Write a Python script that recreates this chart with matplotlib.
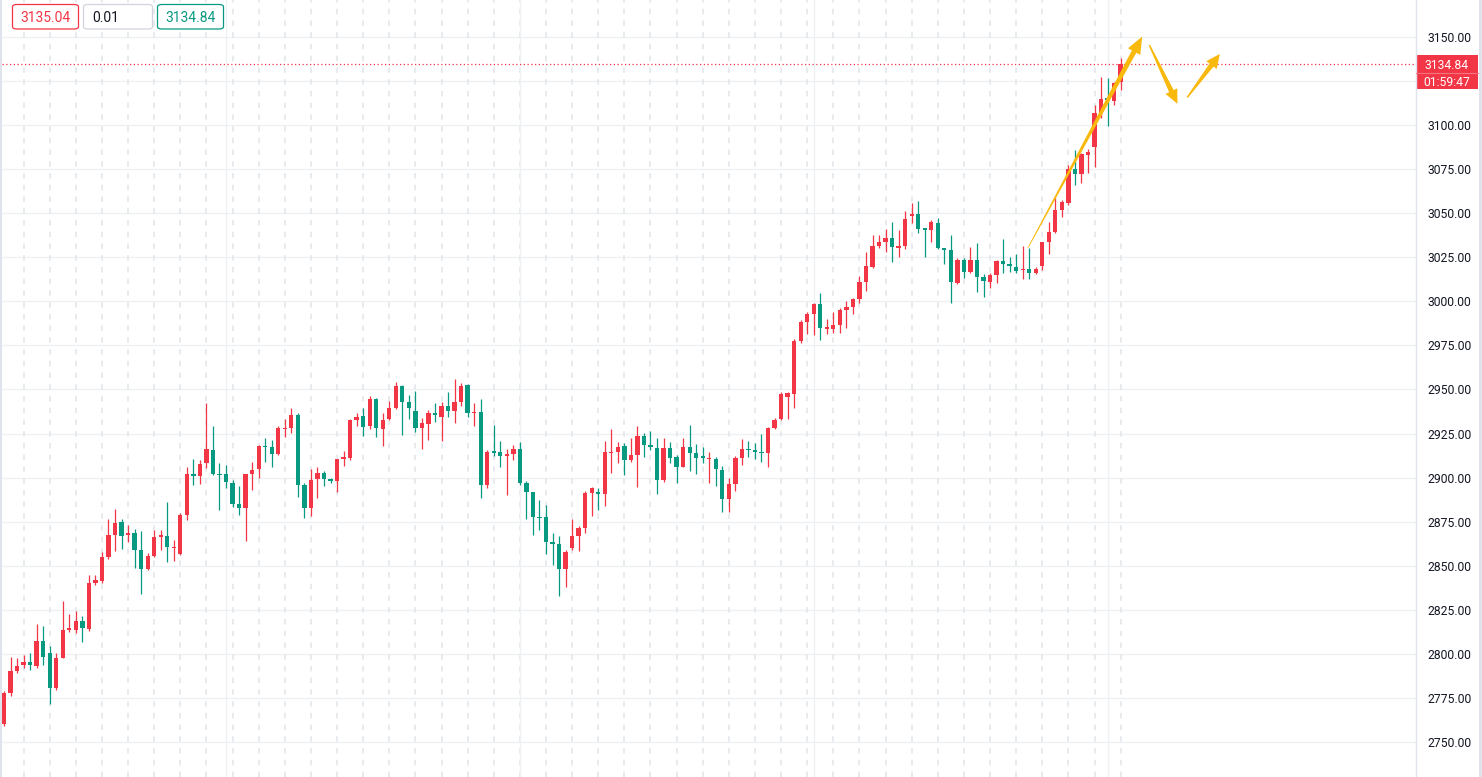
import numpy as np
import matplotlib.pyplot as plt
from matplotlib.patches import Polygon, Rectangle, FancyBboxPatch
from matplotlib.lines import Line2D
from matplotlib.transforms import blended_transform_factory

plt.rcParams['font.family'] = ['Roboto', 'DejaVu Sans']

# ---- candle data ----
opens = [2760.3, 2778.0, 2790.5, 2793.7, 2795.2, 2793.2, 2807.3, 2800.3, 2780.5, 2797.9,
         2813.8, 2813.6, 2818.9, 2814.0, 2840.4, 2841.4, 2854.8, 2867.5, 2875.0, 2867.3,
         2868.4, 2859.0, 2848.2, 2855.5, 2866.5, 2866.9, 2859.9, 2856.5, 2878.8, 2901.9,
         2901.1, 2908.1, 2915.7, 2902.1, 2902.1, 2896.8, 2885.1, 2882.6, 2902.1, 2904.9,
         2918.0, 2917.6, 2913.4, 2927.6, 2928.4, 2935.5, 2895.8, 2882.8, 2899.3, 2902.5,
         2898.7, 2898.3, 2910.8, 2911.0, 2932.7, 2935.0, 2929.3, 2944.4, 2927.6, 2933.1,
         2939.7, 2952.2, 2943.1, 2938.0, 2928.4, 2930.5, 2936.4, 2934.6, 2940.7, 2938.0,
         2942.9, 2952.6, 2936.5, 2937.1, 2895.9, 2915.0, 2914.4, 2912.5, 2913.3, 2916.3,
         2897.2, 2891.7, 2877.6, 2877.4, 2863.2, 2862.4, 2848.2, 2860.3, 2867.1, 2871.6,
         2891.4, 2891.8, 2890.9, 2914.1, 2914.7, 2917.9, 2910.0, 2912.8, 2923.8, 2918.5,
         2916.6, 2898.6, 2916.6, 2911.5, 2906.2, 2917.2, 2914.1, 2912.2, 2910.3, 2910.3,
         2904.3, 2887.9, 2896.4, 2911.3, 2916.2, 2915.6, 2914.7, 2914.1, 2928.1, 2933.3,
         2945.6, 2947.5, 2977.5, 2988.5, 2992.6, 2998.5, 2984.5, 2984.3, 2986.6, 2995.1,
         2997.0, 3001.1, 3011.2, 3019.7, 3031.4, 3033.9, 3036.2, 3030.5, 3031.6, 3048.6,
         3049.6, 3041.5, 3040.5, 3044.7, 3030.1, 3029.2, 3010.6, 3023.5, 3016.9, 3023.5,
         3013.7, 3011.2, 3015.0, 3023.1, 3021.2, 3019.5, 3017.6, 3018.4, 3015.9, 3020.3,
         3033.5, 3039.6, 3051.9, 3055.7, 3075.0, 3072.3, 3083.1, 3087.8, 3106.7, 3115.2,
         3113.7, 3124.7]
highs = [2779.2, 2798.5, 2797.5, 2799.4, 2800.3, 2817.0, 2815.8, 2804.5, 2800.3, 2830.2,
         2822.6, 2824.3, 2821.5, 2844.8, 2844.8, 2858.0, 2876.5, 2882.2, 2876.5, 2873.1,
         2870.9, 2869.7, 2857.0, 2870.3, 2870.3, 2886.4, 2864.6, 2879.7, 2905.9, 2910.6,
         2910.0, 2942.5, 2929.3, 2908.1, 2907.2, 2898.7, 2895.3, 2902.1, 2908.7, 2918.5,
         2922.3, 2921.4, 2929.3, 2933.1, 2939.3, 2936.5, 2897.2, 2904.7, 2905.9, 2904.0,
         2900.0, 2910.6, 2915.3, 2933.3, 2936.9, 2939.7, 2946.3, 2945.0, 2936.9, 2943.7,
         2954.5, 2952.6, 2946.9, 2949.2, 2933.7, 2938.4, 2942.2, 2943.1, 2948.4, 2955.8,
         2953.5, 2953.2, 2942.2, 2944.5, 2915.7, 2929.9, 2920.8, 2916.3, 2918.6, 2920.1,
         2898.2, 2891.7, 2887.4, 2884.5, 2868.5, 2866.9, 2858.9, 2876.5, 2872.7, 2892.4,
         2894.9, 2893.9, 2920.9, 2927.6, 2920.4, 2919.4, 2922.3, 2929.4, 2925.1, 2926.4,
         2922.6, 2922.3, 2920.4, 2912.8, 2922.3, 2929.8, 2919.0, 2917.5, 2914.7, 2911.5,
         2906.6, 2899.6, 2912.2, 2921.7, 2920.7, 2919.4, 2924.7, 2928.9, 2933.6, 2948.4,
         2948.4, 2978.4, 2989.4, 2994.1, 2999.2, 3004.5, 2990.0, 2993.8, 2996.0, 3000.4,
         3001.7, 3014.6, 3028.2, 3037.7, 3037.7, 3041.0, 3044.9, 3040.5, 3051.5, 3055.6,
         3057.0, 3041.5, 3046.2, 3047.1, 3030.1, 3037.7, 3024.4, 3024.4, 3030.7, 3033.3,
         3015.6, 3015.9, 3023.5, 3035.4, 3025.4, 3026.9, 3031.4, 3030.5, 3019.7, 3033.9,
         3044.9, 3058.5, 3057.6, 3077.4, 3086.0, 3084.1, 3086.3, 3111.5, 3127.2, 3126.6,
         3124.7, 3137.9]
lows = [2758.8, 2776.0, 2789.0, 2791.8, 2790.9, 2792.2, 2793.7, 2771.6, 2779.6, 2797.5,
        2812.6, 2812.1, 2807.0, 2813.0, 2839.3, 2840.0, 2853.7, 2858.6, 2859.5, 2863.7,
        2848.5, 2834.0, 2847.6, 2855.2, 2859.0, 2852.3, 2852.9, 2856.1, 2876.0, 2895.8,
        2896.4, 2905.3, 2901.5, 2881.7, 2894.0, 2883.6, 2878.8, 2864.3, 2893.0, 2899.6,
        2909.1, 2905.9, 2912.9, 2923.3, 2925.2, 2888.9, 2876.9, 2878.3, 2888.3, 2895.3,
        2896.8, 2892.1, 2906.6, 2910.0, 2929.3, 2923.6, 2927.4, 2922.9, 2918.0, 2932.7,
        2938.8, 2923.9, 2933.1, 2926.1, 2916.3, 2921.4, 2931.4, 2920.8, 2934.6, 2930.9,
        2940.7, 2934.6, 2929.5, 2888.3, 2894.0, 2912.3, 2905.9, 2890.2, 2910.1, 2895.9,
        2876.4, 2867.5, 2870.3, 2856.8, 2850.5, 2832.6, 2838.1, 2858.9, 2858.6, 2868.8,
        2878.2, 2881.6, 2883.9, 2902.8, 2908.1, 2901.5, 2909.0, 2894.5, 2911.5, 2915.6,
        2890.7, 2897.7, 2908.1, 2896.7, 2906.2, 2903.9, 2902.0, 2908.1, 2896.7, 2895.2,
        2880.3, 2880.3, 2892.6, 2907.1, 2911.9, 2910.4, 2909.0, 2906.2, 2927.6, 2932.7,
        2933.1, 2939.3, 2976.2, 2981.5, 2980.9, 2978.1, 2981.5, 2981.9, 2982.2, 2984.7,
        2992.8, 2999.2, 3005.9, 3019.1, 3030.1, 3028.0, 3022.6, 3025.4, 3029.5, 3044.7,
        3038.6, 3025.4, 3033.9, 3029.5, 3021.2, 2999.3, 3009.9, 3013.1, 3015.9, 3005.5,
        3002.3, 3007.4, 3010.6, 3015.9, 3016.9, 3016.3, 3012.5, 3012.5, 3015.6, 3017.8,
        3026.9, 3039.0, 3047.8, 3054.4, 3066.1, 3067.4, 3073.1, 3076.5, 3103.9, 3099.7,
        3111.5, 3120.0]
closes = [2778.0, 2790.3, 2793.2, 2795.2, 2793.9, 2807.3, 2798.5, 2780.9, 2797.5, 2813.6,
          2814.5, 2818.9, 2814.9, 2840.4, 2841.9, 2855.2, 2867.5, 2874.4, 2866.9, 2868.4,
          2859.0, 2848.2, 2855.5, 2866.5, 2867.3, 2860.8, 2860.8, 2878.8, 2902.1, 2901.1,
          2907.8, 2916.3, 2902.1, 2901.3, 2897.7, 2885.1, 2882.6, 2901.9, 2904.4, 2918.0,
          2917.2, 2913.4, 2928.0, 2928.4, 2935.5, 2895.8, 2882.6, 2898.7, 2902.5, 2899.1,
          2898.3, 2910.6, 2911.5, 2932.7, 2934.6, 2928.9, 2944.6, 2928.0, 2932.7, 2939.7,
          2952.2, 2943.1, 2939.4, 2928.4, 2930.9, 2936.5, 2935.8, 2940.7, 2938.0, 2942.9,
          2952.2, 2936.9, 2937.5, 2895.9, 2914.8, 2914.2, 2912.5, 2913.1, 2916.3, 2896.8,
          2892.1, 2877.4, 2877.0, 2863.2, 2862.4, 2848.2, 2858.0, 2866.9, 2871.6, 2891.4,
          2893.9, 2890.9, 2914.7, 2914.7, 2917.5, 2910.0, 2912.8, 2923.6, 2918.5, 2917.5,
          2898.6, 2916.6, 2910.9, 2906.2, 2917.2, 2913.8, 2910.9, 2910.9, 2910.9, 2904.7,
          2887.9, 2896.4, 2911.3, 2916.2, 2915.5, 2914.7, 2914.1, 2928.1, 2932.7, 2947.5,
          2947.8, 2977.7, 2988.5, 2992.6, 2998.5, 2984.7, 2985.6, 2986.6, 2995.1, 2997.0,
          3001.1, 3011.2, 3020.1, 3031.4, 3033.5, 3036.2, 3030.7, 3031.1, 3046.8, 3049.6,
          3041.1, 3040.7, 3044.9, 3030.1, 3029.4, 3011.2, 3023.5, 3016.9, 3023.5, 3014.1,
          3011.8, 3015.0, 3023.1, 3021.2, 3020.3, 3017.3, 3018.4, 3015.9, 3018.4, 3033.5,
          3039.6, 3051.9, 3056.6, 3075.0, 3072.3, 3083.7, 3084.6, 3106.7, 3114.9, 3114.5,
          3124.1, 3134.84]

last_price = 3134.84
countdown = "01:59:47"
header_values = ["3135.04", "0.01", "3134.84"]
price_ticks = [2750, 2775, 2800, 2825, 2850, 2875, 2900, 2925, 2950, 2975,
               3000, 3025, 3050, 3075, 3100, 3125, 3150]
hidden_tick = 3125          # covered by the countdown label
session_breaks = list(range(3, 172, 4))
month_lines = [34, 79, 124, 169]

# drawn forecast arrows: (bar index, price) start -> tip
arrows = [((156.8, 3030.3), (174.3, 3150.2)),
          ((175.4, 3145.4), (179.7, 3112.1)),
          ((181.2, 3115.7), (186.2, 3140.4))]

UP = '#f23645'
DOWN = '#089981'
W, H = 1482, 777

fig = plt.figure(figsize=(W / 100, H / 100), dpi=100)
fig.patch.set_facecolor('white')
ax = fig.add_axes([2 / W, 0, 1414 / W, 1])
ax.set_xlim(-0.306, 216.23)
ax.set_ylim(2730.14, 3170.99)
ax.axis('off')

# grid
for p in price_ticks:
    ax.axhline(p, color='#eef0f4', lw=1, zorder=0)
for i in session_breaks:
    ax.axvline(i, color='#e6e8ec', lw=1.3, linestyle=(0, (3, 3.5)), zorder=0)
for i in month_lines:
    ax.axvline(i, color='#eef0f4', lw=1, zorder=0)

# candles
o = np.array(opens)
c = np.array(closes)
hi = np.array(highs)
lo = np.array(lows)
x = np.arange(len(o))
cols = np.where(c >= o, UP, DOWN)
ax.vlines(x, lo, hi, colors=cols, lw=0.9, zorder=2)
body_h = np.maximum(np.abs(c - o), 0.7)
ax.bar(x, body_h, bottom=np.minimum(o, c), width=0.66, color=cols, lw=0, zorder=3)

# last price line
ax.axhline(last_price, color=UP, lw=0.9, linestyle=(0, (1, 2)), zorder=1)


def tapered_arrow(start, end, w0, w1, head_len, head_w, color):
    tr = ax.transData
    s = tr.transform(start)
    e = tr.transform(end)
    d = (e - s) / np.hypot(*(e - s))
    n = np.array([-d[1], d[0]])
    b = e - d * head_len
    pts = [s + n * w0 / 2, b + n * w1 / 2, b + n * head_w / 2, e,
           b - n * head_w / 2, b - n * w1 / 2, s - n * w0 / 2]
    pts = tr.inverted().transform(pts)
    ax.add_patch(Polygon(pts, closed=True, facecolor=color, edgecolor='none', zorder=6))


arrow_style = [(0.8, 5.0, 17, 14), (1.5, 5.0, 14, 13), (1.5, 5.0, 14, 13)]
for (s, e), (w0, w1, hl, hw) in zip(arrows, arrow_style):
    tapered_arrow(s, e, w0, w1, hl, hw, '#f9b90c')

# price scale
fig.add_artist(Line2D([1416 / W, 1416 / W], [0, 1], color='#e0e3eb', lw=1))
fig.add_artist(Rectangle((0, 0), 2 / W, 1, color='#e0e3eb', lw=0))
fig.add_artist(Rectangle((1479 / W, 0), 3 / W, 1, color='#e0e3eb', lw=0))
ytr = blended_transform_factory(fig.transFigure, ax.transData)
for p in price_ticks:
    if p == hidden_tick:
        continue
    fig.text(1427 / W, p, f"{p:.2f}", transform=ytr, ha='left', va='center_baseline',
             fontsize=8.7, color='#131722')


def px(xp, yp):
    return xp / W, 1 - yp / H


# last price + countdown tag
x0, y0 = px(1416, 89)
fig.add_artist(Rectangle((x0, y0), 62 / W, 34 / H, color=UP, lw=0))
fig.add_artist(Line2D([1416 / W, 1478 / W], [1 - 72.5 / H] * 2, color='#f6737f', lw=0.8))
fig.text(1447 / W, last_price, f"{last_price:.2f}", transform=ytr, ha='center',
         va='center_baseline', fontsize=8.7, color='white')
fig.text(*px(1447, 81), countdown, ha='center', va='center_baseline', fontsize=8.7, color='white')

# header boxes
boxes = [(12.5, UP, UP, 'center'), (83.5, '#d1d4dc', '#131722', 'left'), (157.5, DOWN, DOWN, 'center')]
for (bx, edge, tc, align), val in zip(boxes, header_values):
    bw = 66 if bx != 83.5 else 69
    lx, ly = px(bx, 29)
    fig.add_artist(FancyBboxPatch((lx, ly), bw / W, 24.5 / H,
                                  boxstyle='round,pad=0,rounding_size=0.003',
                                  facecolor='white', edgecolor=edge, lw=0.9))
    tx = bx + bw / 2 if align == 'center' else bx + 9
    fig.text(*px(tx, 17), val, ha=align, va='center_baseline', fontsize=10, color=tc)

fig.savefig('out.png', dpi=100, facecolor='white')
